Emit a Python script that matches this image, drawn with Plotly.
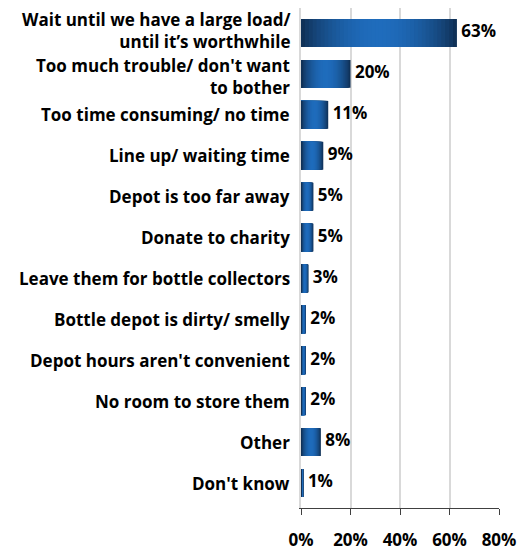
import math
import plotly.graph_objects as go

categories = [
    "Wait until we have a large load/<br>until it\u2019s worthwhile",
    "Too much trouble/ don't want<br>to bother",
    "Too time consuming/ no time",
    "Line up/ waiting time",
    "Depot is too far away",
    "Donate to charity",
    "Leave them for bottle collectors",
    "Bottle depot is dirty/ smelly",
    "Depot hours aren't convenient",
    "No room to store them",
    "Other",
    "Don't know",
]
values = [63, 20, 11, 9, 5, 5, 3, 2, 2, 2, 8, 1]
x_ticks = [0, 20, 40, 60, 80]
x_tick_labels = ["0%", "20%", "40%", "60%", "80%"]

FONT = "Open Sans"
DARK = (15, 44, 79)
LIGHT = (31, 108, 188)
N = 40
# small vertical nudges (px) for the two-line labels so they don't collide
LABEL_YSHIFT = {0: 3, 1: -3}


def shade(t):
    # brightness profile: dark at both ends, light in the middle
    w = math.sin(math.pi * t) ** 0.8
    r, g, b = (round(DARK[i] + (LIGHT[i] - DARK[i]) * w) for i in range(3))
    return f"rgb({r},{g},{b})"


fig = go.Figure()
for k in range(N):
    frac = (N - k) / N
    fig.add_trace(go.Bar(
        x=[v * frac for v in values],
        y=categories,
        orientation="h",
        width=0.68,
        marker=dict(color=shade((N - k - 0.5) / N), line=dict(width=0)),
        hoverinfo="skip",
        showlegend=False,
    ))

fig.add_trace(go.Scatter(
    x=values,
    y=categories,
    mode="text",
    text=[f" {v}%" for v in values],
    textposition="middle right",
    textfont=dict(family=FONT, size=17, color="#000000", weight="bold"),
    cliponaxis=False,
    hoverinfo="skip",
    showlegend=False,
))

# category labels
for idx, cat in enumerate(categories):
    fig.add_annotation(
        x=0, xref="paper", xanchor="right", xshift=-9,
        y=cat, yref="y", yanchor="middle",
        yshift=LABEL_YSHIFT.get(idx, 0),
        text=cat, align="right", showarrow=False,
        font=dict(family=FONT, size=17, color="#000000", weight="bold"),
    )

fig.update_layout(
    width=521,
    height=550,
    margin=dict(l=301, r=22, t=8, b=42),
    barmode="overlay",
    plot_bgcolor="white",
    paper_bgcolor="white",
    font=dict(family=FONT, size=17, color="#000000", weight="bold"),
    xaxis=dict(
        range=[0, 80],
        tickvals=x_ticks,
        ticktext=x_tick_labels,
        showgrid=True,
        gridcolor="#d9d9d9",
        gridwidth=1.5,
        zeroline=False,
        showline=True,
        linecolor="#404040",
        linewidth=1,
        ticks="outside",
        ticklen=6,
        tickcolor="#404040",
        tickfont=dict(size=17),
        ticklabelstandoff=11,
        automargin=False,
        fixedrange=True,
    ),
    yaxis=dict(
        autorange="reversed",
        showgrid=False,
        showline=True,
        linecolor="#d9d9d9",
        linewidth=1.5,
        ticks="",
        showticklabels=False,
        automargin=False,
        fixedrange=True,
    ),
)

fig.write_html(
    "out.html",
    config={"displayModeBar": False},
    post_script="document.body.style.margin='0px';",
)
